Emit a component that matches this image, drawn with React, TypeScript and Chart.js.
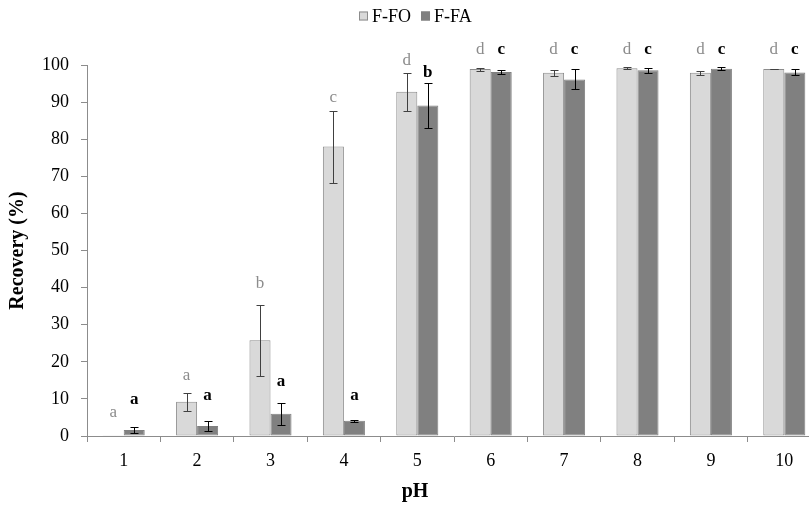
import React, { useEffect, useRef } from "react";
import { Chart, registerables } from "chart.js";

Chart.register(...registerables);

const categories = ["1", "2", "3", "4", "5", "6", "7", "8", "9", "10"];
const seriesNames = ["F-FO", "F-FA"];
const foValues = [0.1, 9.2, 25.8, 78.0, 92.8, 98.9, 97.9, 99.1, 97.9, 98.9];
const foErrors = [0, 2.35, 9.6, 9.7, 5.1, 0.4, 0.8, 0.3, 0.5, 0.1];
const faValues = [1.6, 2.7, 6.0, 4.1, 89.1, 98.1, 96.1, 98.6, 99.0, 98.0];
const faErrors = [0.7, 1.45, 3.0, 0.2, 6.0, 0.6, 2.7, 0.7, 0.4, 0.8];
const foLetters = ["a", "a", "b", "c", "d", "d", "d", "d", "d", "d"];
const faLetters = ["a", "a", "a", "a", "b", "c", "c", "c", "c", "c"];
const foLetterAt = [6.2, 16.3, 41.2, 91.3, 101.2, 104.2, 104.2, 104.2, 104.2, 104.2];
const faLetterAt = [9.7, 10.9, 14.6, 10.9, 97.9, 104.2, 104.2, 104.2, 104.2, 104.2];
const yTicks = [0, 10, 20, 30, 40, 50, 60, 70, 80, 90, 100];
const xTitle = "pH";
const yTitle = "Recovery (%)";

const FONT = "'Liberation Serif', 'Times New Roman', serif";
const AXIS = "#8c8c8c";
const FO_FILL = "#d9d9d9";
const FO_BORDER = "#8c8c8c";
const FA_FILL = "#808080";

const errorsBySet = [foErrors, faErrors];
const lettersBySet = [foLetters, faLetters];
const letterAtBySet = [foLetterAt, faLetterAt];

const extrasPlugin = {
  id: "extras",
  afterDatasetsDraw(chart: any) {
    const ctx = chart.ctx;
    const y = chart.scales.y;
    ctx.save();
    chart.data.datasets.forEach((ds: any, i: number) => {
      const meta = chart.getDatasetMeta(i);
      const errs = errorsBySet[i];
      ctx.strokeStyle = i === 0 ? "#404040" : "#000000";
      ctx.lineWidth = 1;
      meta.data.forEach((el: any, j: number) => {
        const e = errs[j];
        if (!e) return;
        const v = ds.data[j];
        const x = Math.round(el.x) + 0.5;
        const yt = Math.round(y.getPixelForValue(v + e)) + 0.5;
        const yb = Math.round(y.getPixelForValue(v - e)) + 0.5;
        ctx.beginPath();
        ctx.moveTo(x, yt);
        ctx.lineTo(x, yb);
        ctx.moveTo(x - 4, yt);
        ctx.lineTo(x + 4, yt);
        ctx.moveTo(x - 4, yb);
        ctx.lineTo(x + 4, yb);
        ctx.stroke();
      });
    });
    ctx.restore();
  },
  afterDraw(chart: any) {
    const ctx = chart.ctx;
    const y = chart.scales.y;
    ctx.save();
    ctx.textAlign = "center";
    ctx.textBaseline = "middle";
    chart.data.datasets.forEach((ds: any, i: number) => {
      const meta = chart.getDatasetMeta(i);
      ctx.fillStyle = i === 0 ? "#8c8c8c" : "#000000";
      ctx.font = (i === 0 ? "" : "bold ") + "17px " + FONT;
      meta.data.forEach((el: any, j: number) => {
        ctx.fillText(lettersBySet[i][j], el.x, y.getPixelForValue(letterAtBySet[i][j]));
      });
    });
    // x title, centred on the picture as in the reference
    ctx.fillStyle = "#000";
    ctx.font = "bold 20px " + FONT;
    ctx.fillText(xTitle, 415, 492);
    // legend
    ctx.font = "18px " + FONT;
    ctx.textAlign = "left";
    const box = 9;
    const gap = 4;
    const spacing = 10;
    const widths = chart.data.datasets.map((ds: any) => ctx.measureText(ds.label).width);
    const total = widths.reduce((a: number, w: number) => a + box + gap + w, 0) + spacing;
    let x = Math.round(415 - total / 2);
    const cy = 16;
    chart.data.datasets.forEach((ds: any, i: number) => {
      ctx.fillStyle = ds.backgroundColor;
      ctx.fillRect(x, cy - box / 2, box, box);
      ctx.strokeStyle = ds.borderColor;
      ctx.lineWidth = 1;
      ctx.strokeRect(x + 0.5, cy - box / 2 + 0.5, box - 1, box - 1);
      ctx.fillStyle = "#000";
      ctx.fillText(ds.label, x + box + gap, cy + 1);
      x += box + gap + widths[i] + spacing;
    });
    ctx.restore();
  },
};

export default function App() {
  const ref = useRef<HTMLCanvasElement | null>(null);
  useEffect(() => {
    if (!ref.current) return;
    const chart = new Chart(ref.current, {
      type: "bar",
      data: {
        labels: categories,
        datasets: [
          {
            label: seriesNames[0],
            data: foValues,
            backgroundColor: FO_FILL,
            borderColor: FO_BORDER,
            borderWidth: 1,
            borderSkipped: false,
            categoryPercentage: 0.573,
            barPercentage: 1,
          },
          {
            label: seriesNames[1],
            data: faValues,
            backgroundColor: FA_FILL,
            borderColor: FA_FILL,
            borderWidth: 1,
            borderSkipped: false,
            categoryPercentage: 0.573,
            barPercentage: 1,
          },
        ],
      },
      options: {
        responsive: false,
        animation: false,
        devicePixelRatio: 1,
        layout: { padding: { top: 65, right: 0, bottom: 0, left: 0 } },
        plugins: { legend: { display: false }, tooltip: { enabled: false } },
        scales: {
          x: {
            type: "category",
            offset: true,
            grid: { offset: true, drawOnChartArea: false, tickLength: 6, color: AXIS },
            border: { color: AXIS },
            ticks: { color: "#000", font: { family: FONT, size: 18 }, padding: 8 },
            title: { display: false },
            afterFit(s: any) {
              s.height = 70;
            },
          },
          y: {
            min: 0,
            max: 100,
            afterBuildTicks(s: any) {
              s.ticks = yTicks.map((v) => ({ value: v }));
            },
            grid: { drawOnChartArea: false, tickLength: 6, color: AXIS },
            border: { color: AXIS },
            ticks: { color: "#000", font: { family: FONT, size: 18 }, padding: 12 },
            title: {
              display: true,
              text: yTitle,
              color: "#000",
              font: { family: FONT, size: 20, weight: "bold" },
              padding: { top: 6, bottom: 0 },
            },
            afterFit(s: any) {
              s.width = 87;
            },
          },
        },
      },
      plugins: [extrasPlugin],
    } as any);
    return () => chart.destroy();
  }, []);
  return (
    <div
      style={{
        position: "fixed",
        left: 0,
        top: 0,
        width: 809,
        height: 506,
        overflow: "hidden",
        background: "#fff",
      }}
    >
      <canvas ref={ref} width={821} height={506} style={{ width: 821, height: 506, display: "block" }} />
    </div>
  );
}
